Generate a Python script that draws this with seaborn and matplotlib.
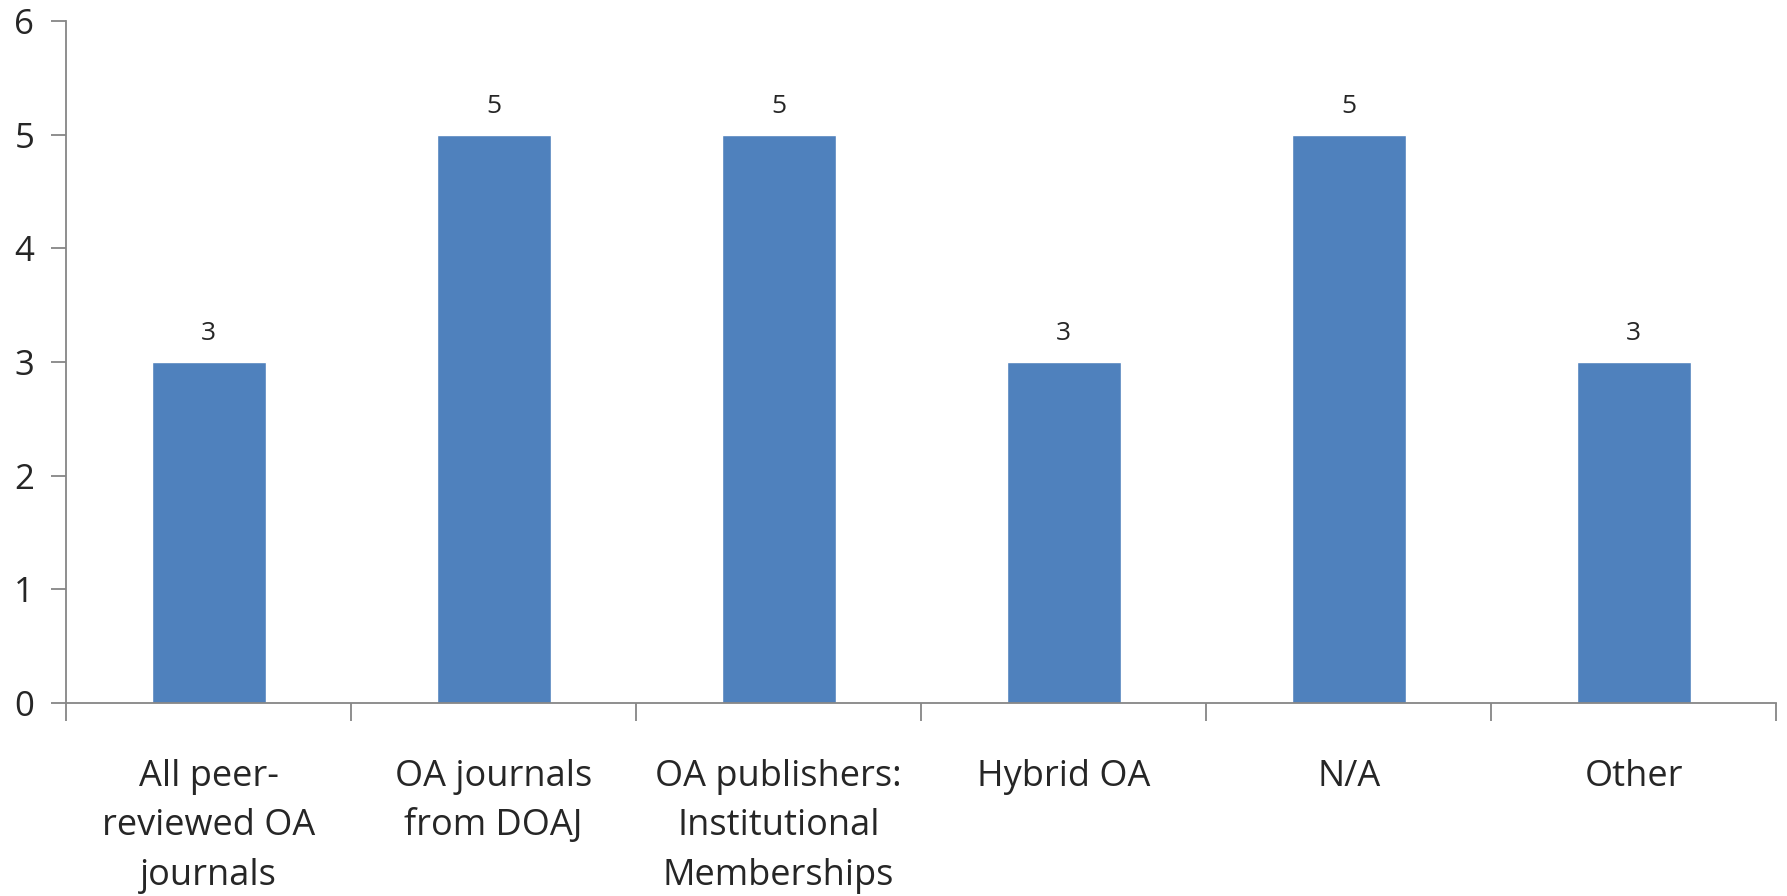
import pandas as pd
import numpy as np
import seaborn as sns
import matplotlib.pyplot as plt

# chart data
categories = ['All peer-\nreviewed OA\njournals', 'OA journals\nfrom DOAJ',
              'OA publishers:\nInstitutional\nMemberships', 'Hybrid OA', 'N/A', 'Other']
counts = [3, 5, 5, 3, 5, 3]
y_ticks = [0, 1, 2, 3, 4, 5, 6]

df = pd.DataFrame({'category': categories, 'count': counts})

sns.set_style('white')
plt.rcParams['font.family'] = ['Open Sans', 'DejaVu Sans']

fig = plt.figure(figsize=(17.87, 8.96), dpi=100)
ax = fig.add_axes([0.037, 0.2154, 0.957, 0.7612])

sns.barplot(data=df, x='category', y='count', color='#4F81BD', saturation=1,
            width=0.4, ax=ax)

for i, v in enumerate(counts):
    ax.text(i, v + 0.14, str(v), ha='center', va='bottom', fontsize=19)

ax.set_ylim(0, 6)
ax.set_xlim(-0.5, len(categories) - 0.5)
ax.set_yticks(y_ticks)
ax.set_yticklabels([str(t) for t in y_ticks], fontsize=25)
ax.set_xlabel('')
ax.set_ylabel('')

# category boundaries as tick marks, labels centred between them
ax.set_xticks(np.arange(len(categories)))
ax.set_xticklabels(categories, fontsize=26, linespacing=1.5)
ax.set_xticks(np.arange(-0.5, len(categories)), minor=True)
ax.tick_params(axis='x', which='major', length=0, pad=40)
ax.tick_params(axis='x', which='minor', length=13, width=1.3, color='#868686',
               direction='out', bottom=True)
ax.tick_params(axis='y', length=11, width=1.3, color='#868686', direction='out',
               left=True, pad=12)

for s in ['top', 'right']:
    ax.spines[s].set_visible(False)
for s in ['left', 'bottom']:
    ax.spines[s].set_color('#868686')
    ax.spines[s].set_linewidth(1.3)

fig.savefig('out.png', dpi=100)
